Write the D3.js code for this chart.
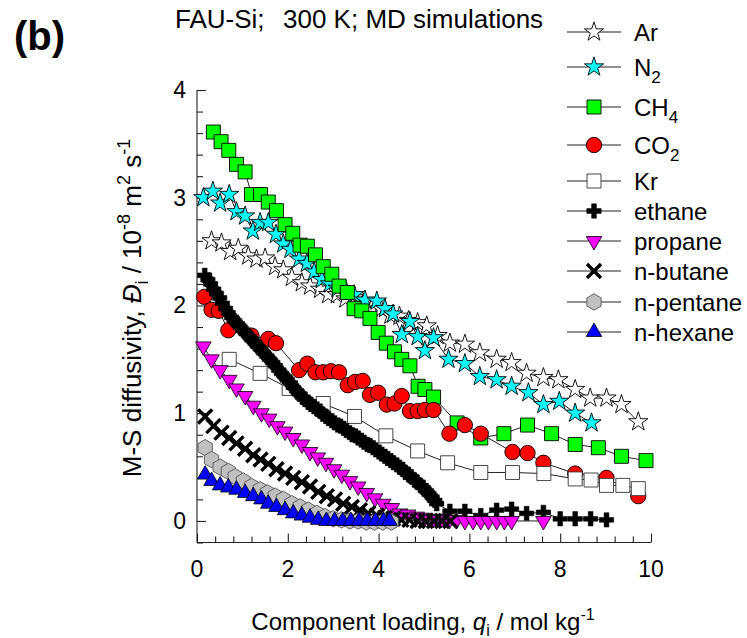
<!DOCTYPE html>
<html>
<head>
<meta charset="utf-8">
<script src="https://cdn.jsdelivr.net/npm/d3@7"></script>
<style>
  html, body { margin: 0; padding: 0; background: #fff; }
  svg { display: block; font-family: "Liberation Sans", Arial, Helvetica, sans-serif; }
</style>
</head>
<body>
<svg id="chart" width="747" height="638"></svg>
<script>
// M-S diffusivities in FAU-Si at 300 K, [loading q_i (mol/kg), D_i (1e-8 m2/s)]
const ar = [[0.32,2.60],[0.54,2.58],[0.73,2.50],[0.91,2.53],[1.13,2.46],[1.31,2.43],[1.50,2.44],[1.72,2.36],[1.90,2.33],[2.09,2.26],[2.31,2.21],[2.49,2.18],[2.71,2.15],[2.89,2.10],[3.08,2.10],[3.27,2.06],[3.47,2.07],[3.66,2.02],[3.85,1.98],[4.05,1.97],[4.26,1.91],[4.46,1.90],[4.66,1.86],[4.86,1.84],[5.06,1.81],[5.30,1.72],[5.57,1.65],[5.90,1.64],[6.23,1.56],[6.60,1.50],[6.93,1.47],[7.26,1.37],[7.63,1.33],[7.96,1.31],[8.33,1.22],[8.66,1.14],[9.02,1.14],[9.35,1.08],[9.72,0.92]];
const n2 = [[0.14,3.00],[0.35,3.06],[0.51,2.95],[0.71,3.03],[0.87,2.87],[1.06,2.83],[1.23,2.69],[1.39,2.77],[1.57,2.77],[1.74,2.66],[1.90,2.57],[2.06,2.52],[2.25,2.43],[2.42,2.39],[2.58,2.31],[2.75,2.24],[2.93,2.20],[3.10,2.16],[3.28,2.14],[3.46,2.10],[3.70,2.05],[3.96,2.04],[4.14,1.97],[4.32,1.92],[4.51,1.73],[4.69,1.85],[4.86,1.71],[5.02,1.58],[5.21,1.70],[5.54,1.50],[5.90,1.46],[6.23,1.34],[6.60,1.31],[6.93,1.25],[7.30,1.19],[7.63,1.08],[7.98,1.11],[8.33,1.00],[8.69,0.91]];
const ch4 = [[0.36,3.61],[0.53,3.52],[0.70,3.44],[0.87,3.31],[1.06,3.24],[1.20,3.03],[1.40,3.03],[1.57,2.96],[1.75,2.88],[1.94,2.75],[2.11,2.67],[2.27,2.56],[2.43,2.55],[2.61,2.47],[2.78,2.36],[2.97,2.29],[3.13,2.18],[3.31,2.12],[3.46,1.97],[3.63,1.95],[3.81,1.88],[3.99,1.75],[4.17,1.65],[4.35,1.57],[4.51,1.50],[4.69,1.44],[4.87,1.25],[5.02,1.22],[5.21,1.15],[5.73,0.91],[6.25,0.77],[6.76,0.81],[7.28,0.89],[7.81,0.81],[8.33,0.71],[8.84,0.68],[9.35,0.60],[9.89,0.56]];
const co2 = [[0.16,2.08],[0.32,1.96],[0.48,1.95],[0.69,1.77],[1.20,1.72],[1.57,1.69],[1.74,1.65],[2.25,1.40],[2.43,1.46],[2.61,1.38],[2.78,1.38],[2.95,1.39],[3.13,1.38],[3.32,1.26],[3.48,1.29],[3.65,1.30],[3.81,1.17],[3.99,1.19],[4.18,1.08],[4.35,1.09],[4.51,1.16],[4.69,1.02],[4.86,1.02],[5.02,1.03],[5.21,1.03],[5.56,0.81],[5.90,0.89],[6.25,0.81],[6.95,0.64],[7.28,0.63],[7.63,0.54],[8.33,0.44],[9.02,0.40],[9.72,0.23]];
const kr = [[0.71,1.50],[1.39,1.37],[2.03,1.23],[2.78,1.09],[3.47,0.97],[4.16,0.79],[4.86,0.65],[5.52,0.54],[6.25,0.45],[6.95,0.45],[7.64,0.44],[8.33,0.39],[8.68,0.38],[9.02,0.33],[9.38,0.33],[9.72,0.30]];
const ethane = [[0.17,2.28],[0.24,2.24],[0.30,2.20],[0.37,2.15],[0.43,2.11],[0.50,2.07],[0.56,2.02],[0.63,1.97],[0.69,1.93],[0.76,1.89],[0.82,1.86],[0.89,1.83],[0.95,1.80],[1.02,1.77],[1.08,1.74],[1.15,1.71],[1.21,1.68],[1.28,1.65],[1.34,1.62],[1.41,1.59],[1.47,1.56],[1.54,1.53],[1.60,1.50],[1.67,1.47],[1.73,1.44],[1.80,1.40],[1.86,1.37],[1.93,1.34],[1.99,1.31],[2.06,1.28],[2.12,1.24],[2.19,1.21],[2.25,1.18],[2.32,1.15],[2.38,1.13],[2.45,1.10],[2.51,1.08],[2.58,1.06],[2.64,1.04],[2.71,1.02],[2.77,0.99],[2.84,0.97],[2.90,0.95],[2.97,0.93],[3.03,0.91],[3.10,0.89],[3.16,0.88],[3.23,0.86],[3.29,0.84],[3.36,0.82],[3.42,0.80],[3.49,0.79],[3.55,0.77],[3.62,0.75],[3.68,0.73],[3.75,0.71],[3.81,0.70],[3.88,0.68],[3.94,0.66],[4.01,0.64],[4.07,0.62],[4.14,0.60],[4.20,0.58],[4.27,0.56],[4.33,0.54],[4.40,0.52],[4.46,0.50],[4.53,0.48],[4.59,0.45],[4.66,0.43],[4.72,0.41],[4.79,0.38],[4.85,0.36],[4.92,0.33],[4.98,0.31],[5.05,0.28],[5.11,0.25],[5.18,0.22],[5.24,0.19],[5.28,0.16],[5.57,0.09],[5.90,0.09],[6.25,0.05],[6.60,0.10],[6.93,0.11],[7.26,0.07],[7.63,0.08],[8.00,0.02],[8.33,0.02],[8.67,0.02],[9.02,0.01]];
const propane = [[0.14,1.62],[0.32,1.50],[0.51,1.40],[0.71,1.31],[0.87,1.23],[1.06,1.16],[1.24,1.07],[1.42,1.00],[1.59,0.95],[1.77,0.88],[1.94,0.83],[2.12,0.77],[2.31,0.71],[2.49,0.64],[2.66,0.59],[2.84,0.54],[3.02,0.48],[3.19,0.43],[3.37,0.37],[3.55,0.32],[3.74,0.26],[3.92,0.21],[4.10,0.16],[4.29,0.12],[4.47,0.07],[4.65,0.06],[4.84,0.04],[5.02,0.03],[5.21,0.02],[5.39,0.02],[5.56,0.01],[5.72,0.01],[5.90,0.00],[6.08,0.00],[6.25,0.00],[6.42,0.00],[6.60,0.00],[6.77,0.00],[6.93,0.00],[7.63,0.00]];
const nButane = [[0.18,0.97],[0.36,0.88],[0.54,0.82],[0.71,0.77],[0.87,0.72],[1.06,0.67],[1.24,0.61],[1.40,0.57],[1.57,0.53],[1.75,0.48],[1.94,0.44],[2.12,0.40],[2.31,0.36],[2.49,0.32],[2.67,0.27],[2.86,0.23],[3.04,0.20],[3.22,0.16],[3.41,0.13],[3.59,0.10],[3.77,0.07],[3.96,0.05],[4.14,0.03],[4.32,0.02],[4.50,0.01],[4.68,0.01],[4.86,0.00],[5.04,0.00],[5.22,0.00],[5.40,0.00],[5.58,0.00]];
const nPentane = [[0.18,0.68],[0.32,0.57],[0.51,0.50],[0.69,0.46],[0.84,0.41],[1.02,0.37],[1.20,0.32],[1.39,0.29],[1.55,0.26],[1.72,0.23],[1.90,0.20],[2.09,0.16],[2.27,0.13],[2.45,0.10],[2.64,0.07],[2.82,0.04],[3.00,0.02],[3.18,0.01],[3.37,0.00],[3.55,0.00],[3.73,-0.01],[3.91,-0.01],[4.09,-0.01],[4.28,-0.01]];
const nHexane = [[0.18,0.43],[0.32,0.37],[0.51,0.33],[0.69,0.31],[0.87,0.29],[1.06,0.26],[1.24,0.23],[1.42,0.20],[1.57,0.16],[1.75,0.13],[1.94,0.10],[2.12,0.07],[2.31,0.05],[2.49,0.03],[2.67,0.01],[2.85,0.00],[3.03,0.00],[3.21,0.00],[3.39,0.00],[3.57,0.00],[3.75,0.00],[3.93,0.00],[4.11,0.00],[4.24,0.00]];

const xTickLabels = [0, 2, 4, 6, 8, 10];
const yTickLabels = [0, 1, 2, 3, 4];

// pointy-top hexagon symbol
const symbolHexagon = {
  draw(ctx, size) {
    const r = Math.sqrt(size / (1.5 * Math.sqrt(3)));
    for (let i = 0; i < 6; i++) {
      const a = -Math.PI / 2 + i * Math.PI / 3;
      const px = r * Math.cos(a), py = r * Math.sin(a);
      if (i === 0) ctx.moveTo(px, py); else ctx.lineTo(px, py);
    }
    ctx.closePath();
  }
};
// downward triangle
const symbolTriangleDown = {
  draw(ctx, size) {
    const y = -Math.sqrt(size / (Math.sqrt(3) * 3));
    ctx.moveTo(0, -y * 2);
    ctx.lineTo(-Math.sqrt(3) * y, y);
    ctx.lineTo(Math.sqrt(3) * y, y);
    ctx.closePath();
  }
};

const series = [
  { name: "Ar", data: ar, type: d3.symbolStar, size: 115, fill: "#ffffff", stroke: "#000", sw: 0.9 },
  { name: "N", sub: "2", data: n2, type: d3.symbolStar, size: 115, fill: "#00ffff", stroke: "#000", sw: 0.9 },
  { name: "CH", sub: "4", data: ch4, type: d3.symbolSquare, size: 196, fill: "#00ff00", stroke: "#000", sw: 0.9 },
  { name: "CO", sub: "2", data: co2, type: d3.symbolCircle, size: 185, fill: "#ff0000", stroke: "#000", sw: 0.9 },
  { name: "Kr", data: kr, type: d3.symbolSquare, size: 196, fill: "#ffffff", stroke: "#333", sw: 0.9 },
  { name: "ethane", data: ethane, type: d3.symbolCross, size: 115, fill: "#000000", stroke: "#000", sw: 0.5 },
  { name: "propane", data: propane, type: symbolTriangleDown, size: 105, fill: "#ff00ff", stroke: "#000", sw: 0.8 },
  { name: "n-butane", data: nButane, type: d3.symbolTimes, size: 130, fill: "none", stroke: "#000", sw: 3.4 },
  { name: "n-pentane", data: nPentane, type: symbolHexagon, size: 175, fill: "#c0c0c0", stroke: "#555", sw: 0.9 },
  { name: "n-hexane", data: nHexane, type: d3.symbolTriangle, size: 105, fill: "#0000ff", stroke: "#000", sw: 0.8 }
];

const svg = d3.select("#chart");
const x = d3.scaleLinear().domain([0, 10]).range([197, 651]);
const y = d3.scaleLinear().domain([-0.2, 4]).range([542.5, 90]);

// axes: ticks pointing into the plot
const xAxisG = svg.append("g").attr("transform", `translate(0,${y(-0.2)})`);
xAxisG.call(d3.axisTop(x).tickValues(d3.range(0, 10.001, 0.4)).tickFormat("")
  .tickSize(6).tickSizeOuter(0));
xAxisG.selectAll(".tick line").filter(d => Math.abs(d / 2 - Math.round(d / 2)) < 1e-6).attr("y2", -9);
xAxisG.select(".domain").attr("d", `M${x(0)},0H${x(10)}`);

const yAxisG = svg.append("g").attr("transform", `translate(${x(0)},0)`);
yAxisG.call(d3.axisRight(y).tickValues(d3.range(-0.2, 4.001, 0.2)).tickFormat("")
  .tickSize(6).tickSizeOuter(0));
yAxisG.selectAll(".tick line").filter(d => Math.abs(d - Math.round(d)) < 1e-6).attr("x2", 9);
yAxisG.select(".domain").attr("d", `M0,${y(-0.2)}V${y(4)}`);

svg.selectAll(".domain, .tick line").attr("stroke", "#222").attr("stroke-width", 1.1);

// tick labels
svg.append("g").selectAll("text").data(xTickLabels).join("text")
  .attr("x", d => x(d)).attr("y", 577).attr("text-anchor", "middle")
  .attr("font-size", 23).text(d => d);
svg.append("g").selectAll("text").data(yTickLabels).join("text")
  .attr("x", 186).attr("y", d => y(d) + 8).attr("text-anchor", "end")
  .attr("font-size", 23).text(d => d);

// series: connecting line then markers
const line = d3.line().x(d => x(d[0])).y(d => y(d[1]));
series.forEach(s => {
  const g = svg.append("g");
  g.append("path").attr("d", line(s.data)).attr("fill", "none")
    .attr("stroke", "#222").attr("stroke-width", 1);
  g.selectAll("path.m").data(s.data).join("path").attr("class", "m")
    .attr("transform", d => `translate(${x(d[0])},${y(d[1])})`)
    .attr("d", d3.symbol().type(s.type).size(s.size))
    .attr("fill", s.fill).attr("stroke", s.stroke).attr("stroke-width", s.sw);
});

// legend
const legendRows = [32, 67, 107, 145, 181, 211, 241, 271, 302, 332];
const lg = svg.append("g");
series.forEach((s, i) => {
  const cy = legendRows[i];
  lg.append("line").attr("x1", 567).attr("x2", 621).attr("y1", cy).attr("y2", cy)
    .attr("stroke", "#222").attr("stroke-width", 1);
  lg.append("path").attr("transform", `translate(594,${cy})`)
    .attr("d", d3.symbol().type(s.type).size(s.size))
    .attr("fill", s.fill).attr("stroke", s.stroke).attr("stroke-width", s.sw);
  const t = lg.append("text").attr("x", 634).attr("y", cy + 8.5).attr("font-size", 24);
  t.append("tspan").text(s.name);
  if (s.sub) t.append("tspan").attr("dy", 7).attr("font-size", 17).text(s.sub);
});

// panel tag and title
svg.append("text").attr("x", 14).attr("y", 50).attr("font-size", 40)
  .attr("font-weight", "bold").text("(b)");
const title = svg.append("text").attr("y", 28).attr("font-size", 26);
title.append("tspan").attr("x", 175).text("FAU-Si;");
title.append("tspan").attr("x", 283).text("300 K; MD simulations");

// axis titles
const xt = svg.append("text").attr("x", 423).attr("y", 630).attr("text-anchor", "middle").attr("font-size", 24);
xt.append("tspan").text("Component loading, ");
xt.append("tspan").attr("font-style", "italic").text("q");
xt.append("tspan").attr("dy", 6).attr("font-size", 16).text("i");
xt.append("tspan").attr("dy", -6).text(" / mol kg");
xt.append("tspan").attr("dy", -10).attr("font-size", 16).text("-1");

const yt = svg.append("text").attr("transform", "translate(141,308) rotate(-90)")
  .attr("text-anchor", "middle").attr("font-size", 26);
yt.append("tspan").text("M-S diffusivity, ");
yt.append("tspan").attr("font-style", "italic").text("Đ");
yt.append("tspan").attr("dy", 7).attr("font-size", 18).text("i");
yt.append("tspan").attr("dy", -7).text(" / 10");
yt.append("tspan").attr("dy", -11).attr("font-size", 18).text("-8");
yt.append("tspan").attr("dy", 11).text(" m");
yt.append("tspan").attr("dy", -11).attr("font-size", 18).text("2");
yt.append("tspan").attr("dy", 11).text(" s");
yt.append("tspan").attr("dy", -11).attr("font-size", 18).text("-1");
</script>
</body>
</html>
